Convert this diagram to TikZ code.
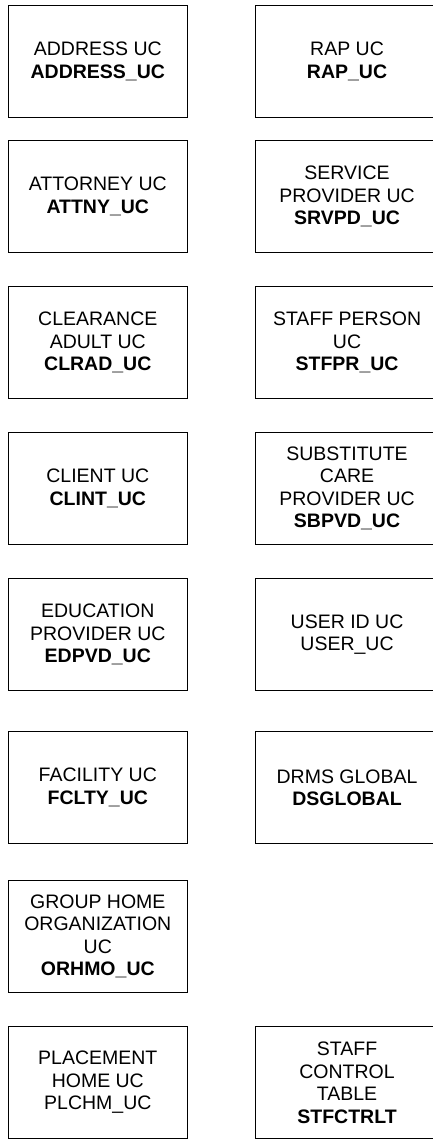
\documentclass[tikz,border=0pt]{standalone}
\usepackage{fontspec}
\setmainfont{Liberation Sans}
\begin{document}
\begin{tikzpicture}[x=1pt,y=-1pt,
  ucbox/.style={draw=black, line width=1.1pt, minimum width=179.5pt, minimum height=112pt,
    align=center, inner sep=0pt, anchor=north west, font=\fontsize{19.5}{22.5}\selectfont},
  ucboxr/.style={ucbox, minimum width=183pt}]
\useasboundingbox (0,0) rectangle (433,1139);
\node[ucbox]  (address)  at (7.5,5)   {ADDRESS UC\\\textbf{ADDRESS\_UC}};
\node[ucboxr] (rap)      at (255,5)   {RAP UC\\\textbf{RAP\_UC}};
\node[ucbox]  (attny)    at (7.5,140) {ATTORNEY UC\\\textbf{ATTNY\_UC}};
\node[ucboxr] (srvpd)    at (255,140) {SERVICE\\PROVIDER UC\\\textbf{SRVPD\_UC}};
\node[ucbox]  (clrad)    at (7.5,286) {CLEARANCE\\ADULT UC\\\textbf{CLRAD\_UC}};
\node[ucboxr] (stfpr)    at (255,286) {STAFF PERSON\\UC\\\textbf{STFPR\_UC}};
\node[ucbox]  (clint)    at (7.5,432) {CLIENT UC\\\textbf{CLINT\_UC}};
\node[ucboxr] (sbpvd)    at (255,432) {SUBSTITUTE\\CARE\\PROVIDER UC\\\textbf{SBPVD\_UC}};
\node[ucbox]  (edpvd)    at (7.5,578) {EDUCATION\\PROVIDER UC\\\textbf{EDPVD\_UC}};
\node[ucboxr] (user)     at (255,578) {USER ID UC\\USER\_UC};
\node[ucbox]  (fclty)    at (7.5,731) {FACILITY UC\\\textbf{FCLTY\_UC}};
\node[ucboxr] (dsglobal) at (255,731) {DRMS GLOBAL\\\textbf{DSGLOBAL}};
\node[ucbox]  (orhmo)    at (7.5,880) {GROUP HOME\\ORGANIZATION\\UC\\\textbf{ORHMO\_UC}};
\node[ucbox]  (plchm)    at (7.5,1026) {PLACEMENT\\HOME UC\\PLCHM\_UC};
\node[ucboxr] (stfctrlt) at (255,1026) {STAFF\\CONTROL\\TABLE\\\textbf{STFCTRLT}};
\end{tikzpicture}
\end{document}
